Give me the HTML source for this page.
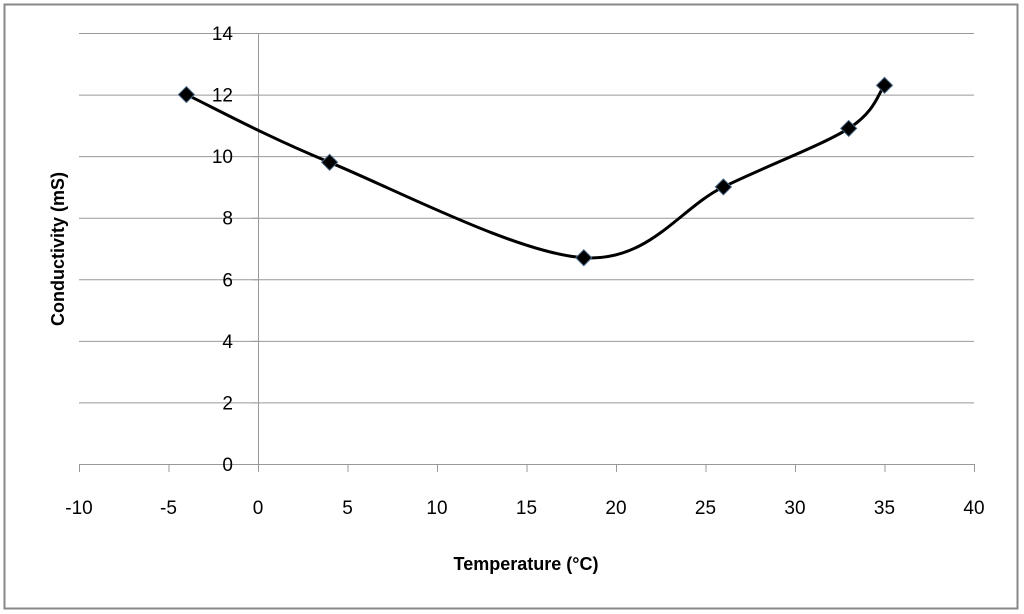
<!DOCTYPE html>
<html><head><meta charset="utf-8"><style>
body{margin:0;background:#fff;}
svg{display:block;font-family:"Liberation Sans",sans-serif;}
</style></head><body>
<svg id="chart" width="1024" height="614" viewBox="0 0 1024 614">
<rect x="4.5" y="4.5" width="1013" height="604" fill="#fff" stroke="#888" stroke-width="2"/>
<g id="grid"></g>
<g id="axes"></g>
<g id="series"></g>
<text transform="translate(64,249) rotate(-90)" text-anchor="middle" font-size="18" font-weight="bold" fill="#000">Conductivity (mS)</text>
<text x="526" y="570" text-anchor="middle" font-size="18" font-weight="bold" fill="#000">Temperature (°C)</text>
</svg>
<script>
const xTicks=[-10,-5,0,5,10,15,20,25,30,35,40];
const yTicks=[0,2,4,6,8,10,12,14];
const temps=[-4,4,18.2,26,33,35];
const conductivity=[12,9.8,6.7,9,10.9,12.3];
const NS='http://www.w3.org/2000/svg';
const X0=79,X1=974,Y0=464,Y1=33;
const xs=v=>X0+(v+10)/50*(X1-X0);
const ys=v=>Y0-v/14*(Y0-Y1);
function mk(tag,attrs,parent){const e=document.createElementNS(NS,tag);for(const k in attrs)e.setAttribute(k,attrs[k]);parent.appendChild(e);return e;}
const grid=document.getElementById('grid'),axes=document.getElementById('axes'),series=document.getElementById('series');
yTicks.forEach(t=>{
  const l=mk('line',{x1:X0,x2:X1,y1:ys(t)+0.5,y2:ys(t)+0.5,stroke:'#999','stroke-width':1},grid);
  
  
  const tk=mk('line',{x1:xs(0)-6,x2:xs(0),y1:ys(t)+0.5,y2:ys(t)+0.5,stroke:'#999'},axes);
  
  
  const tx=mk('text',{x:xs(0)-25,y:ys(t)+7,'text-anchor':'end','font-size':19,fill:'#000'},axes);
  tx.textContent=t;
  
  
});
const va=mk('line',{x1:xs(0)+0.5,x2:xs(0)+0.5,y1:Y1,y2:Y0+8,stroke:'#999'},axes);


xTicks.forEach(t=>{
  const tk=mk('line',{x1:xs(t)+0.5,x2:xs(t)+0.5,y1:Y0,y2:Y0+8,stroke:'#999'},axes);
  
  
  const tx=mk('text',{x:xs(t),y:Y0+50,'text-anchor':'middle','font-size':19,fill:'#000'},axes);
  tx.textContent=t;
  
  
});
const pts=temps.map((t,i)=>[xs(t),ys(conductivity[i])]);
let d='M'+pts[0][0]+','+pts[0][1];
for(let i=0;i<pts.length-1;i++){
  const p0=pts[Math.max(0,i-1)],p1=pts[i],p2=pts[i+1],p3=pts[Math.min(pts.length-1,i+2)];
  const c1=[p1[0]+(p2[0]-p0[0])/6,p1[1]+(p2[1]-p0[1])/6];
  const c2=[p2[0]-(p3[0]-p1[0])/6,p2[1]-(p3[1]-p1[1])/6];
  d+=' C'+c1+' '+c2+' '+p2;
}
const line=mk('path',{d:d,fill:'none',stroke:'#000','stroke-width':3},series);


pts.forEach(p=>{
  const m=mk('polygon',{points:[[p[0],p[1]-8],[p[0]+8,p[1]],[p[0],p[1]+8],[p[0]-8,p[1]]].join(' '),fill:'#000',stroke:'#4a6a8a','stroke-width':1},series);
  
  
});
</script>
</body></html>
